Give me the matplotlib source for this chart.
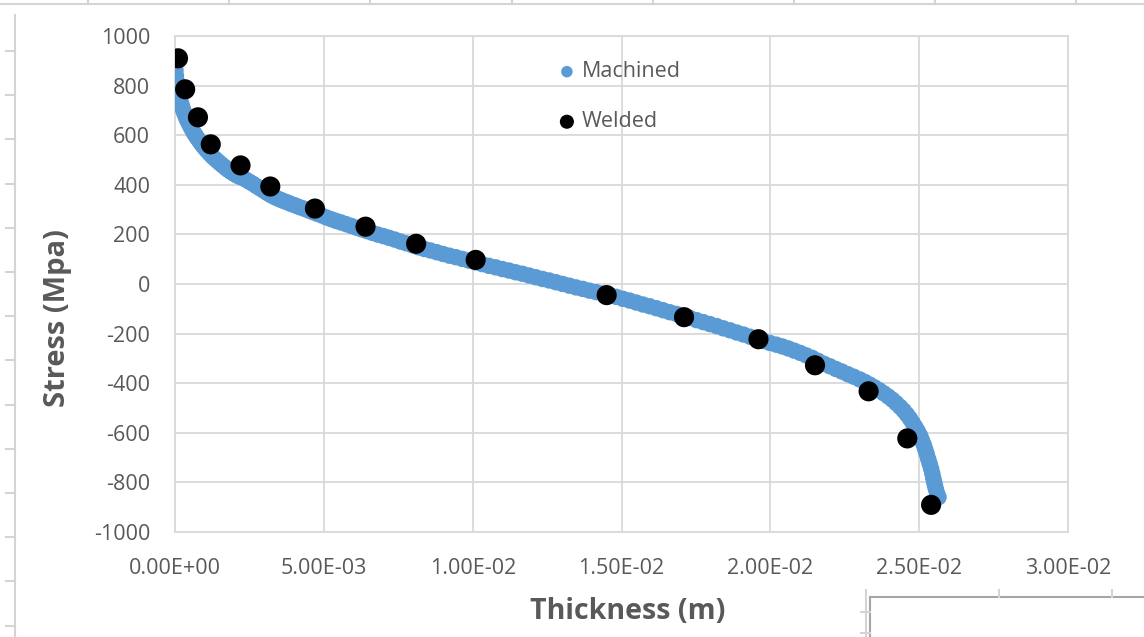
import matplotlib.pyplot as plt
from matplotlib.lines import Line2D
import numpy as np

plt.rcParams['font.family'] = ['Open Sans', 'DejaVu Sans']
plt.rcParams['axes.unicode_minus'] = False

# Machined series (thickness in mm, stress in MPa) read along the blue band
machined_mm = [
    0.00, 0.015, 0.03, 0.05, 0.07, 0.095, 0.12, 0.15, 0.18, 0.215,
    0.25, 0.29, 0.33, 0.375, 0.42, 0.47, 0.52, 0.575, 0.63, 0.69,
    0.75, 0.815, 0.88, 0.95, 1.02, 1.095, 1.17, 1.25, 1.33, 1.415,
    1.50, 1.59, 1.68, 1.775, 1.87, 1.97, 2.07, 2.175, 2.28, 2.39,
    2.50, 2.615, 2.73, 2.85, 2.97, 3.095, 3.22, 3.35, 3.48, 3.615,
    3.75, 3.89, 4.03, 4.175, 4.32, 4.47, 4.62, 4.775, 4.93, 5.09,
    5.25, 5.415, 5.58, 5.75, 5.92, 6.095, 6.27, 6.45, 6.63, 6.815,
    7.00, 7.19, 7.38, 7.575, 7.77, 7.97, 8.17, 8.375, 8.58, 8.79,
    9.00, 9.215, 9.43, 9.65, 9.87, 10.095, 10.32, 10.545, 10.77, 10.995,
    11.22, 11.445, 11.67, 11.895, 12.12, 12.345, 12.57, 12.795, 13.02, 13.245,
    13.47, 13.695, 13.92, 14.145, 14.37, 14.595, 14.82, 15.045, 15.27, 15.495,
    15.72, 15.945, 16.17, 16.395, 16.62, 16.845, 17.07, 17.295, 17.52, 17.745,
    17.97, 18.195, 18.42, 18.645, 18.87, 19.095, 19.32, 19.545, 19.77, 19.985,
    20.20, 20.40, 20.60, 20.80, 21.00, 21.20, 21.40, 21.60, 21.80, 22.00,
    22.20, 22.40, 22.60, 22.80, 23.00, 23.17, 23.34, 23.50, 23.66, 23.81,
    23.96, 24.10, 24.23, 24.36, 24.48, 24.59, 24.69, 24.78, 24.87, 24.95,
    25.03, 25.09, 25.15, 25.20, 25.25, 25.30, 25.35, 25.40, 25.44, 25.47,
    25.50, 25.53, 25.56, 25.60, 25.65]
machined_stress = [
    885, 862, 840, 820, 800, 784, 768, 753, 738, 724,
    710, 696, 683, 670, 658, 646, 634, 622, 610, 599,
    588, 577, 566, 555, 545, 535, 525, 515, 506, 497,
    488, 479, 470, 461, 453, 445, 438, 432, 427, 420,
    412, 404, 395, 386, 377, 367, 358, 350, 343, 336,
    330, 323, 317, 310, 304, 297, 290, 283, 276, 268,
    261, 254, 248, 241, 234, 227, 220, 213, 206, 199,
    193, 186, 179, 171, 164, 156, 148, 141, 135, 128,
    121, 114, 108, 101, 94, 87, 80, 73, 67, 60,
    54, 47, 41, 34, 27, 20, 14, 7, 0, -7,
    -14, -20, -27, -33, -39, -45, -52, -60, -67, -75,
    -83, -90, -98, -106, -114, -121, -129, -137, -146, -154,
    -162, -170, -179, -187, -196, -204, -213, -221, -230, -238,
    -245, -252, -260, -269, -278, -288, -298, -310, -322, -332,
    -343, -353, -364, -374, -385, -395, -406, -417, -429, -441,
    -454, -467, -481, -496, -511, -527, -543, -560, -577, -594,
    -612, -630, -648, -666, -685, -705, -725, -745, -765, -782,
    -798, -813, -828, -844, -860]

# Welded series
welded_mm = [0.10, 0.34, 0.77, 1.20, 2.20, 3.20, 4.70, 6.40, 8.10, 10.10,
             14.50, 17.10, 19.60, 21.50, 23.30, 24.60, 25.40]
welded_stress = [910, 785, 672, 563, 478, 393, 304, 231, 162, 97,
                 -45, -134, -223, -328, -433, -623, -891]

x_ticks = [0, 0.005, 0.01, 0.015, 0.02, 0.025, 0.03]
x_tick_labels = ['0.00E+00', '5.00E-03', '1.00E-02', '1.50E-02',
                 '2.00E-02', '2.50E-02', '3.00E-02']
y_ticks = list(range(-1000, 1001, 200))

text_grey = '#595959'
grid_grey = '#d9d9d9'

fig = plt.figure(figsize=(11.44, 6.37), dpi=100)
ax = fig.add_axes([0.153, 0.165, 0.7806, 0.7785])

ax.scatter(np.array(machined_mm) * 1e-3, machined_stress, s=140,
           color='#5b9bd5', edgecolors='none', label='Machined', zorder=3)
ax.scatter(np.array(welded_mm) * 1e-3, welded_stress, s=210,
           color='black', edgecolors='none', label='Welded', zorder=4)

ax.set_xlim(0, 0.03)
ax.set_ylim(-1000, 1000)
ax.set_xticks(x_ticks)
ax.set_xticklabels(x_tick_labels)
ax.set_yticks(y_ticks)
ax.grid(True, color=grid_grey, linewidth=1.3)
ax.set_axisbelow(True)
ax.tick_params(length=0, labelsize=15.5, colors=text_grey)
ax.tick_params(axis='y', pad=18)
ax.tick_params(axis='x', pad=19)
for side in ['top', 'right', 'bottom', 'left']:
    ax.spines[side].set_color(grid_grey)
    ax.spines[side].set_linewidth(1.3)

ax.set_xlabel('Thickness (m)', fontsize=20.5, fontweight='bold', color=text_grey)
ax.set_ylabel('Stress (Mpa)', fontsize=21, fontweight='bold', color=text_grey)
ax.xaxis.set_label_coords(0.507, -0.132)
ax.yaxis.set_label_coords(-0.115, 0.431)

leg = ax.legend(loc='upper left', bbox_to_anchor=(0.393, 0.988), frameon=False,
                fontsize=15.5, handletextpad=-0.3, labelspacing=1.35, markerscale=0.7)
for t in leg.get_texts():
    t.set_color(text_grey)

# spreadsheet cell borders around the chart object
W, H = 1144, 637
def px_line(xs, ys, color='#d4d4d4', lw=1.5):
    fig.add_artist(Line2D([x / W for x in xs], [1 - y / H for y in ys],
                          color=color, linewidth=lw))

px_line([0, W], [4, 4])
for k in range(9):
    x = 88 + 141.2 * k
    px_line([x, x], [0, 4])
px_line([15, 15], [15, H])
for k in range(14):
    y = 51 + 44.2 * k
    px_line([6, 15], [y, y])
px_line([870, W], [597, 597], color='#a6a6a6')
px_line([870, 870], [597, H], color='#a6a6a6')
px_line([866, 866], [590, H])
for x in [999, 1112]:
    px_line([x, x], [590, 597])
for y in [612, 633]:
    px_line([861, 870], [y, y])

fig.savefig('out.png', dpi=100)
